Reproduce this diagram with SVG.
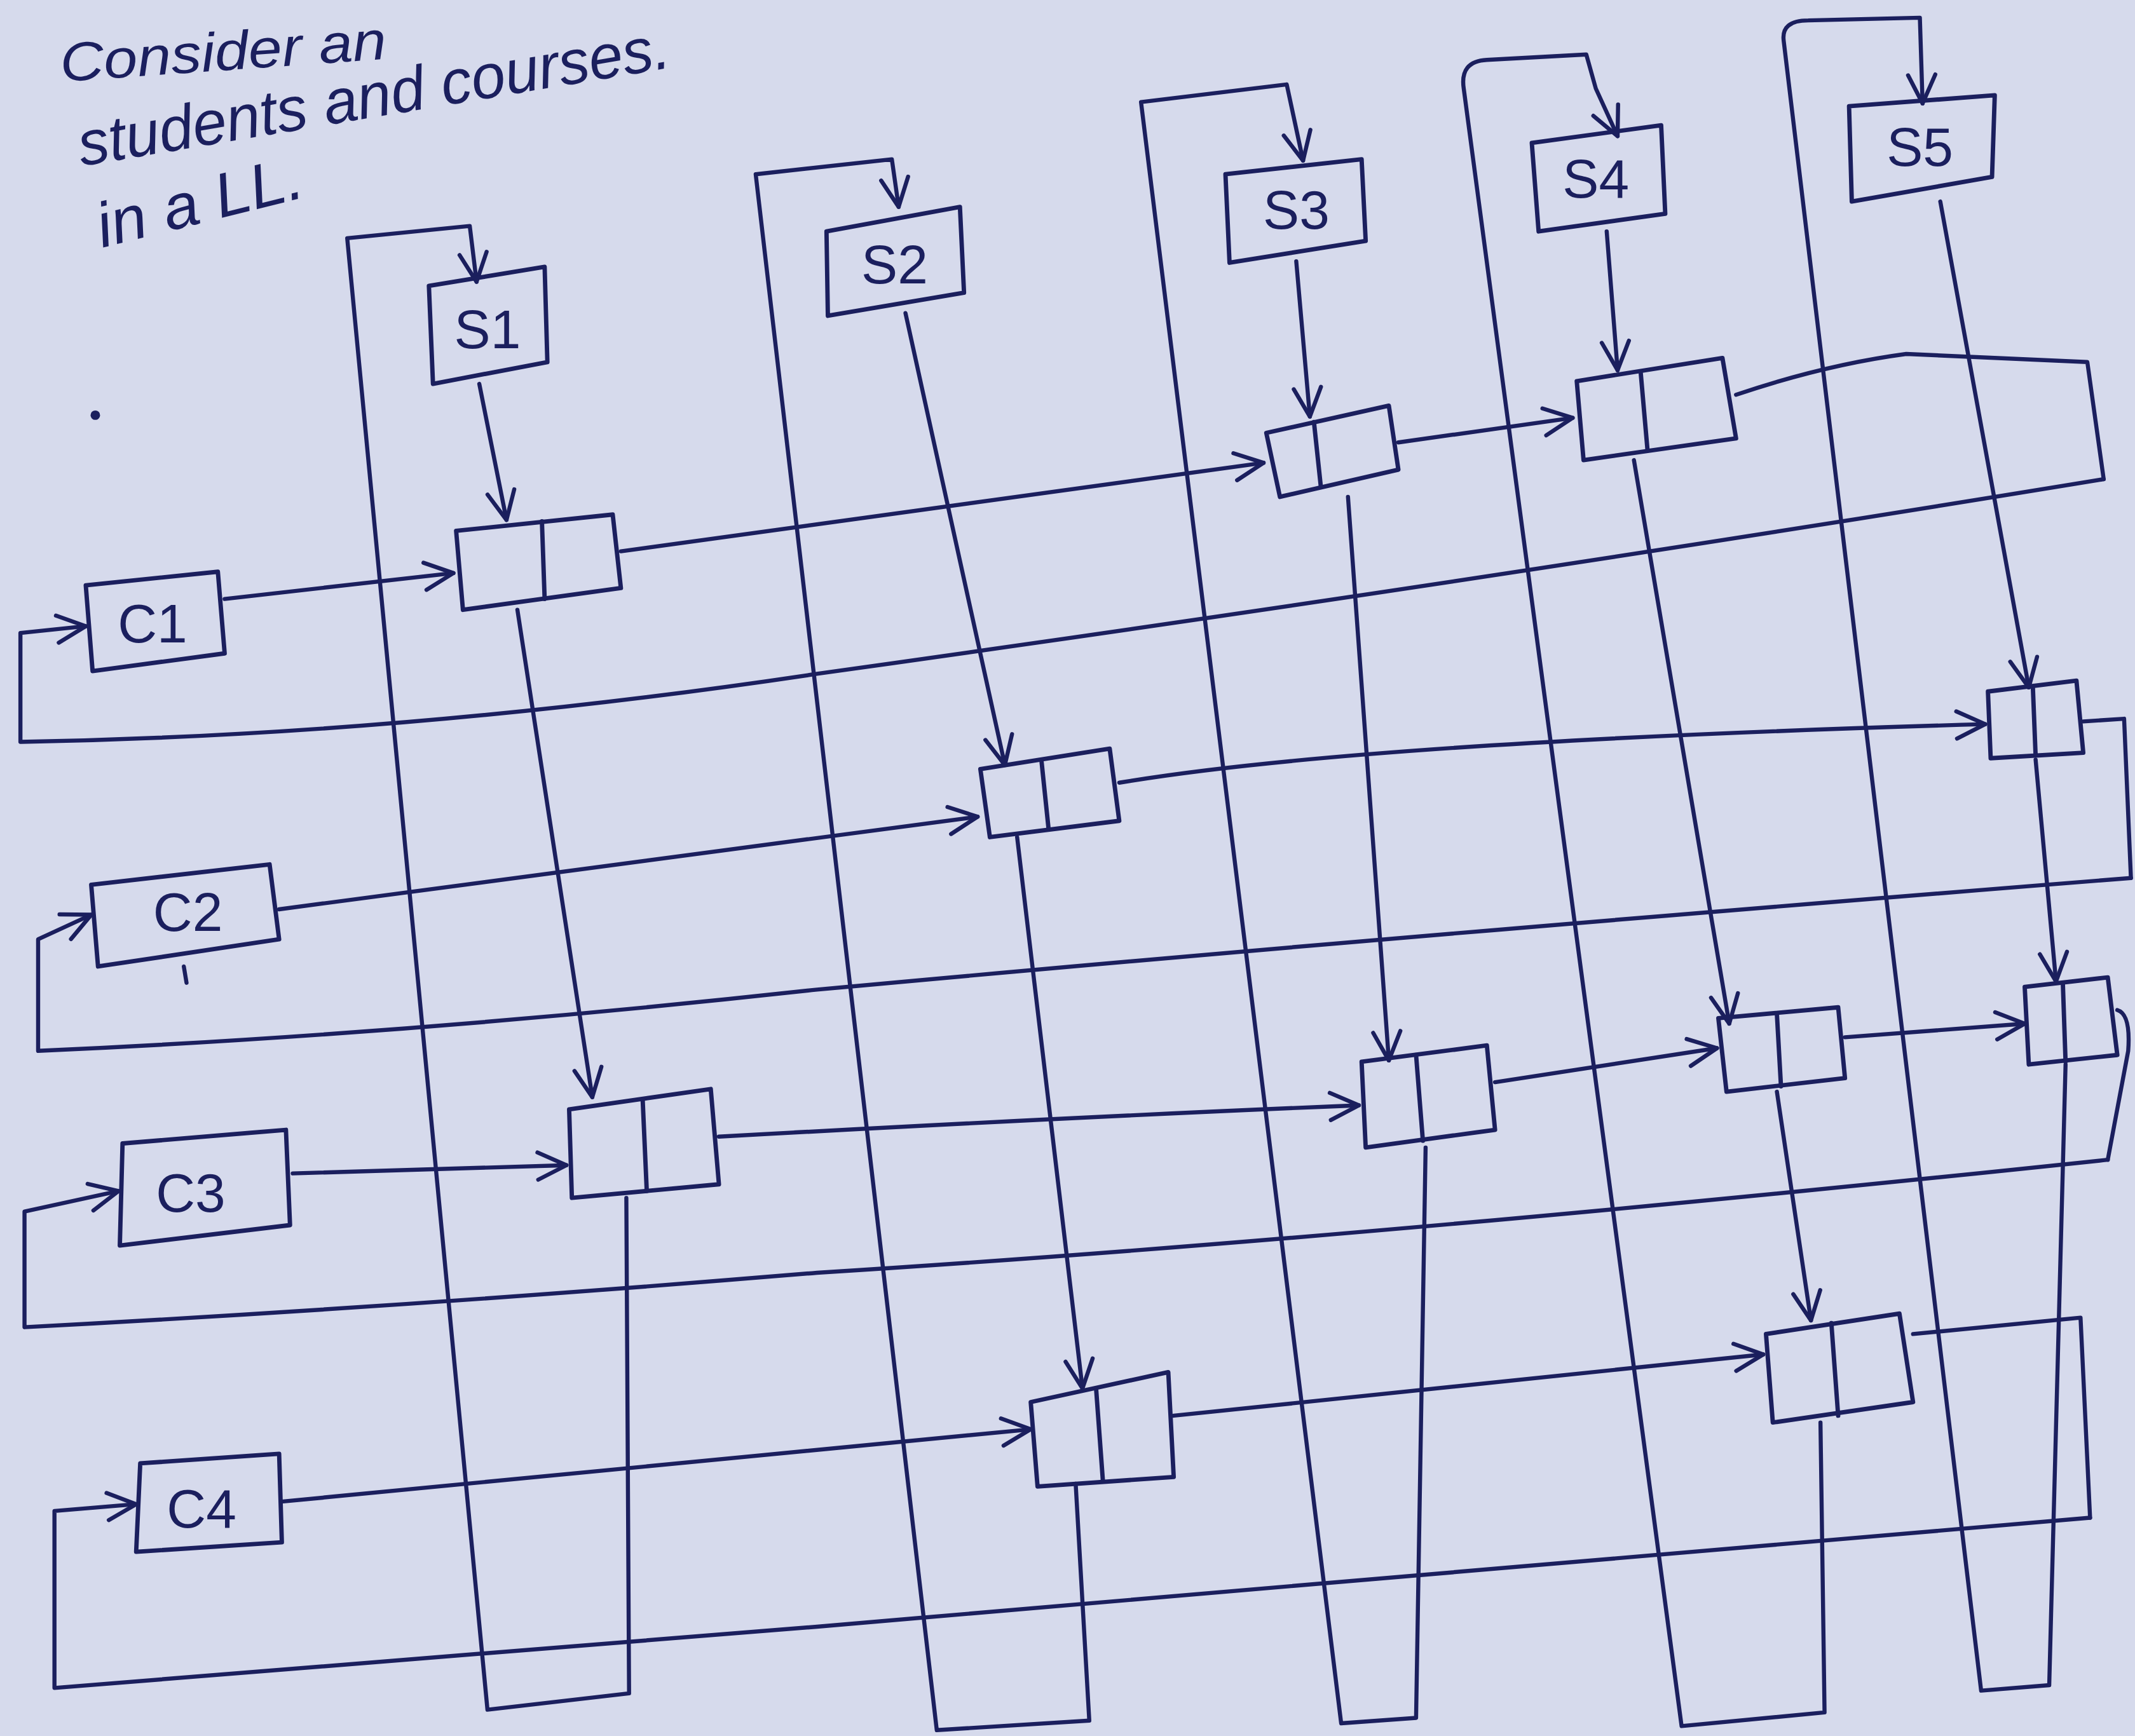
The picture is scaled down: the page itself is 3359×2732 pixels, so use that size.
<svg xmlns="http://www.w3.org/2000/svg" width="3359" height="2732" viewBox="0 0 3359 2732">
<style>
.ink{fill:none;stroke:#1b1f5e;stroke-width:3;stroke-linejoin:round;stroke-linecap:round}
.box{fill:none;stroke:#1b1f5e;stroke-width:3.2;stroke-linejoin:round;stroke-linecap:round}
.lbl{font-family:"Liberation Sans","DejaVu Sans",sans-serif;font-size:40px;fill:#1b1f5e;text-anchor:middle}
.hand{font-family:"Liberation Sans","DejaVu Sans",sans-serif;font-style:italic;fill:#1b1f5e}
.arr{marker-end:url(#ah)}
</style>
<defs>
<marker id="ah" viewBox="0 0 26 26" refX="24" refY="13" markerWidth="26" markerHeight="26" markerUnits="userSpaceOnUse" orient="auto">
<path d="M3,3 L24,13 L3,23" fill="none" stroke="#1b1f5e" stroke-width="3" stroke-linecap="round" stroke-linejoin="round"/>
</marker>
</defs>
<rect x="0" y="0" width="3359" height="2732" fill="#d6daec"/>
<g transform="scale(2.14222)">
<g id="title">
<text class="hand" font-size="40" transform="translate(45,60) rotate(-4)" textLength="240" lengthAdjust="spacingAndGlyphs">Consider an</text>
<text class="hand" font-size="46" transform="translate(60,122) rotate(-9.5)" textLength="440" lengthAdjust="spacingAndGlyphs">students and courses.</text>
<text class="hand" font-size="46" transform="translate(75,182) rotate(-14)" textLength="155" lengthAdjust="spacingAndGlyphs">in a LL.</text>
<circle cx="70" cy="305" r="3.5" fill="#1b1f5e"/>
</g>

<g id="connectors">
<!-- course rows -->
<path class="ink arr" d="M165,440 L333,421"/>
<path class="ink arr" d="M456,405 L928,340"/>
<path class="ink arr" d="M1027,325 L1155,307"/>
<path class="ink" d="M1275,290 Q1340,268 1400,260 L1533,266 L1545,352"/>
<path class="ink arr" d="M1545,352 Q1100,425 600,495 Q300,540 15,545 L15,465 L63,460"/>

<path class="ink arr" d="M205,668 L718,600"/>
<path class="ink arr" d="M822,575 Q1000,545 1458,532"/>
<path class="ink" d="M1530,530 L1560,528 L1565,645"/>
<path class="ink arr" d="M1565,645 Q1000,690 600,727 Q300,760 28,772 L28,690 L67,672"/>

<path class="ink arr" d="M215,862 L416,856"/>
<path class="ink arr" d="M528,835 Q800,820 998,812"/>
<path class="ink arr" d="M1098,795 L1261,770"/>
<path class="ink arr" d="M1355,762 L1487,752"/>
<path class="ink" d="M1555,742 Q1565,745 1563,772 L1548,852"/>
<path class="ink arr" d="M1548,852 Q1000,910 600,935 Q300,960 18,975 L18,890 L87,875"/>

<path class="ink arr" d="M208,1103 L757,1050"/>
<path class="ink arr" d="M862,1040 Q1100,1015 1295,995"/>
<path class="ink" d="M1405,980 L1528,968 L1535,1115"/>
<path class="ink arr" d="M1535,1115 Q900,1170 600,1195 Q300,1220 40,1240 L40,1110 L100,1105"/>

<!-- student columns -->
<path class="ink arr" d="M352,282 L372,382"/>
<path class="ink arr" d="M380,448 L435,806"/>
<path class="ink arr" d="M460,880 L462,1244 L358,1256 L255,175 L345,166 L350,207"/>

<path class="ink arr" d="M665,230 L738,562"/>
<path class="ink arr" d="M747,615 L795,1020"/>
<path class="ink arr" d="M790,1090 L800,1264 L688,1271 L555,128 L655,117 L660,152"/>

<path class="ink arr" d="M952,192 L962,306"/>
<path class="ink arr" d="M990,365 L1020,779"/>
<path class="ink arr" d="M1047,843 L1040,1262 L985,1266 L838,75 L945,62 L957,118"/>

<path class="ink arr" d="M1180,170 L1188,272"/>
<path class="ink arr" d="M1200,338 L1270,752"/>
<path class="ink arr" d="M1305,802 L1330,970"/>
<path class="ink arr" d="M1337,1045 L1340,1258 L1235,1268 L1075,65 Q1072,45 1092,44 L1165,40 L1172,65 L1188,100"/>

<path class="ink arr" d="M1425,148 L1490,505"/>
<path class="ink arr" d="M1495,558 L1510,721"/>
<path class="ink arr" d="M1517,782 L1505,1238 L1455,1242 L1310,30 Q1308,15 1328,15 L1410,13 L1412,76"/>
</g>

<!-- student header nodes -->
<g id="S1"><polygon class="box" points="315,210 400,196 402,266 318,282"/><text class="lbl" x="358" y="256">S1</text></g>
<g id="S2"><polygon class="box" points="607,170 705,152 708,215 608,232"/><text class="lbl" x="657" y="208">S2</text></g>
<g id="S3"><polygon class="box" points="900,128 1000,117 1003,177 903,193"/><text class="lbl" x="952" y="168">S3</text></g>
<g id="S4"><polygon class="box" points="1125,105 1220,92 1223,157 1130,170"/><text class="lbl" x="1172" y="145">S4</text></g>
<g id="S5"><polygon class="box" points="1358,78 1465,70 1463,130 1360,148"/><text class="lbl" x="1410" y="122">S5</text></g>

<!-- course header nodes -->
<g id="C1"><polygon class="box" points="63,430 160,420 165,480 68,493"/><text class="lbl" x="112" y="472">C1</text></g>
<g id="C2"><polygon class="box" points="67,650 198,635 205,690 72,710"/><text class="lbl" x="138" y="684">C2</text><path class="ink" d="M135,710 L137,722"/></g>
<g id="C3"><polygon class="box" points="90,840 210,830 213,900 88,915"/><text class="lbl" x="140" y="890">C3</text></g>
<g id="C4"><polygon class="box" points="103,1075 205,1068 207,1133 100,1140"/><text class="lbl" x="148" y="1122">C4</text></g>

<!-- element nodes -->
<g id="N11"><polygon class="box" points="335,390 450,378 456,432 340,448"/><path class="box" d="M398,383 L400,440"/></g>
<g id="N13"><polygon class="box" points="930,318 1020,298 1027,345 940,365"/><path class="box" d="M965,310 L970,357"/></g>
<g id="N14"><polygon class="box" points="1158,280 1265,263 1275,322 1163,338"/><path class="box" d="M1205,274 L1210,331"/></g>
<g id="N22"><polygon class="box" points="720,565 815,550 822,603 727,615"/><path class="box" d="M765,560 L770,608"/></g>
<g id="N25"><polygon class="box" points="1460,508 1525,500 1530,553 1462,557"/><path class="box" d="M1493,505 L1495,555"/></g>
<g id="N31"><polygon class="box" points="418,815 522,800 528,870 420,880"/><path class="box" d="M472,808 L475,875"/></g>
<g id="N33"><polygon class="box" points="1000,780 1092,768 1098,830 1003,843"/><path class="box" d="M1040,775 L1045,838"/></g>
<g id="N34"><polygon class="box" points="1262,748 1350,740 1355,792 1268,802"/><path class="box" d="M1305,745 L1308,798"/></g>
<g id="N35"><polygon class="box" points="1487,725 1548,718 1555,775 1490,782"/><path class="box" d="M1515,722 L1517,780"/></g>
<g id="N42"><polygon class="box" points="757,1030 858,1008 862,1085 762,1092"/><path class="box" d="M805,1020 L810,1088"/></g>
<g id="N44"><polygon class="box" points="1297,980 1395,965 1405,1030 1302,1045"/><path class="box" d="M1345,972 L1350,1040"/></g>
</g>
</svg>
